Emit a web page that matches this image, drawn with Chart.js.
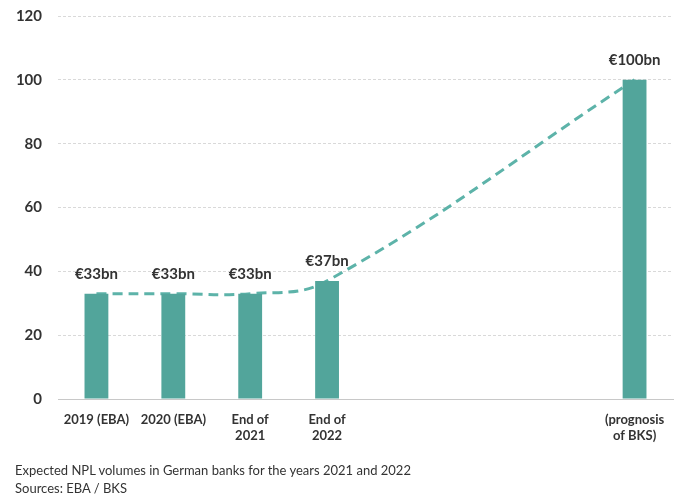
<!DOCTYPE html>
<html>
<head>
<meta charset="utf-8">
<script src="https://cdn.jsdelivr.net/npm/chart.js@4/dist/chart.umd.min.js"></script>
<style>
  html, body { margin: 0; padding: 0; background: #fff; }
  #wrap { position: relative; width: 680px; height: 503px; }
  #caption {
    position: absolute; left: 15px; top: 461px;
    font: 13px Lato, sans-serif; color: #333; line-height: 18px;
  }
</style>
</head>
<body>
<div id="wrap">
  <canvas id="nplChart" width="680" height="503"></canvas>
  <div id="caption">
    Expected NPL volumes in German banks for the years 2021 and 2022<br>
    Sources: EBA / BKS
  </div>
</div>
<script>
// Kategorien (leere Slots sorgen für den Abstand zur Prognose)
const categories = [
  '2019 (EBA)', '2020 (EBA)', ['End of', '2021'], ['End of', '2022'],
  '', '', '', ['(prognosis', 'of BKS)']
];
// NPL-Volumen in Mrd. Euro
const nplVolumes = [33, 33, 33, 37, null, null, null, 100];
const yTicks = [0, 20, 40, 60, 80, 100, 120];

const teal = '#52a59b';
const textColor = '#333333';

// Werte über den Balken ("€33bn")
const barValueLabels = {
  id: 'barValueLabels',
  afterDatasetsDraw(chart) {
    const meta = chart.getDatasetMeta(0);
    const ctx = chart.ctx;
    ctx.save();
    ctx.font = 'bold 15px Lato, sans-serif';
    ctx.fillStyle = textColor;
    ctx.textAlign = 'center';
    ctx.textBaseline = 'middle';
    meta.data.forEach((bar, i) => {
      const v = nplVolumes[i];
      if (v === null) return;
      ctx.fillText('€' + v + 'bn', bar.x, bar.y - 20);
    });
    ctx.restore();
  }
};

new Chart(document.getElementById('nplChart').getContext('2d'), {
  type: 'bar',
  data: {
    labels: categories,
    datasets: [
      {
        data: nplVolumes,
        backgroundColor: teal,
        categoryPercentage: 1,
        barPercentage: 0.31,
        order: 0
      },
      {
        type: 'line',
        data: nplVolumes,
        borderColor: '#5db3a9',
        borderWidth: 3,
        borderDash: [10, 6],
        pointRadius: 0,
        tension: 0.4,
        spanGaps: true,
        fill: false,
        order: 1
      }
    ]
  },
  options: {
    responsive: false,
    animation: false,
    layout: { padding: { top: 16, right: 7, left: 0, bottom: 0 } },
    plugins: { legend: { display: false }, tooltip: { enabled: false } },
    scales: {
      x: {
        grid: { display: false, drawTicks: false },
        border: { color: '#c8c8c8', width: 1 },
        ticks: {
          color: textColor,
          font: { family: 'Lato, sans-serif', weight: 'bold', size: 13 },
          padding: 13,
          maxRotation: 0,
          autoSkip: false
        },
        afterFit(scale) { scale.height = 104; }
      },
      y: {
        min: 0,
        max: 120,
        afterBuildTicks(scale) { scale.ticks = yTicks.map(v => ({ value: v })); },
        grid: { color: '#d9d9d9', drawTicks: false, lineWidth: 1 },
        border: { display: false, dash: [3, 2] },
        ticks: {
          color: textColor,
          font: { family: 'Lato, sans-serif', weight: 'bold', size: 15 },
          padding: 16
        },
        afterFit(scale) {
          scale.width = 58;
          scale.paddingTop = 0;
          scale.paddingBottom = 0;
        }
      }
    }
  },
  plugins: [barValueLabels]
});
</script>
</body>
</html>
